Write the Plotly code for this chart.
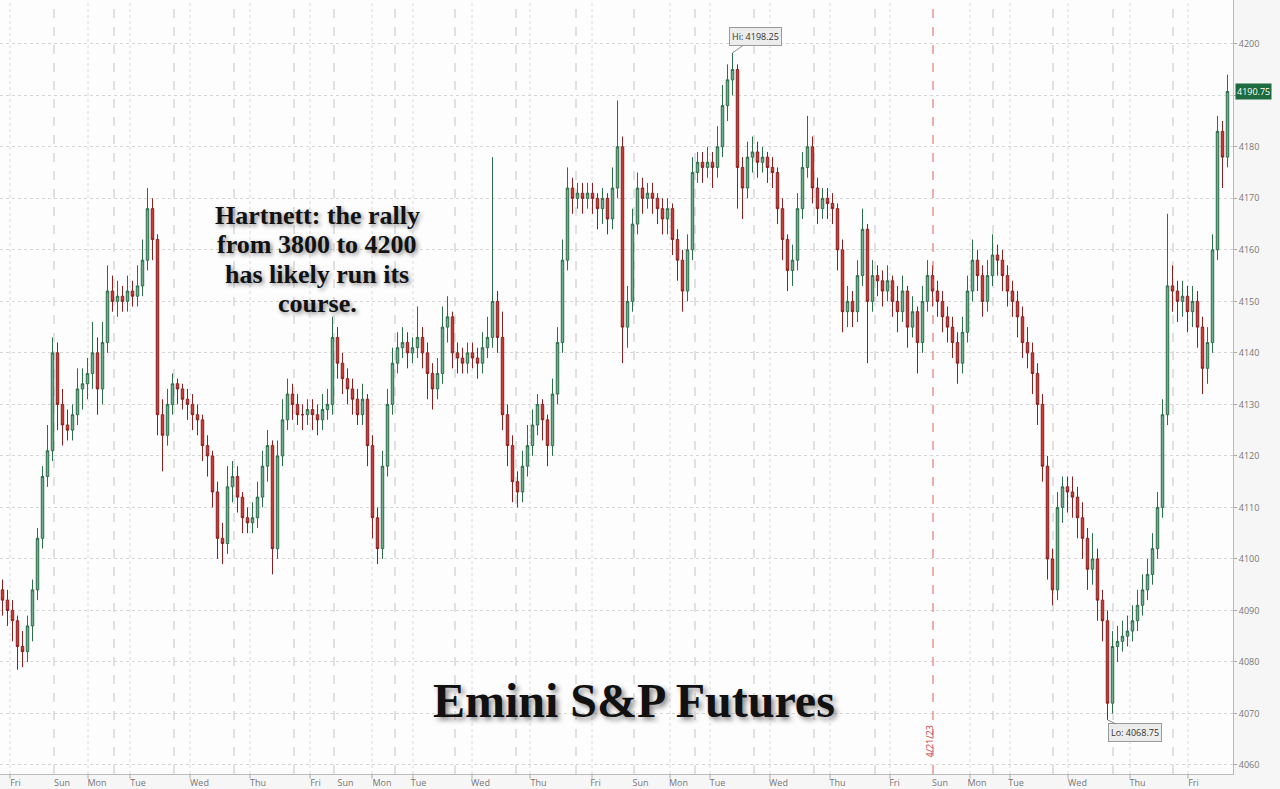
import plotly.graph_objects as go

# ---------------- data (one candle per bar index) ----------------
close_ = [
4092,4090,4088,4083,4082,4087,4094,4104,4116,4121,
4140,4130,4126,4125,4128,4133,4134,4136,4140,4133,
4142,4152,4150,4151,4150,4152,4151,4153,4158,4168,
4162,4128,4124,4130,4134,4133,4131,4130,4128,4127,
4122,4120,4113,4104,4103,4114,4116,4112,4108,4107,
4108,4112,4118,4122,4102,4120,4127,4132,4130,4128,
4128,4129,4128,4127,4129,4130,4143,4138,4135,4133,
4131,4128,4131,4122,4108,4102,4118,4130,4138,4141,
4142,4140,4141,4143,4140,4136,4133,4136,4145,4147,
4140,4139,4138,4140,4139,4138,4141,4143,4150,4143,
4128,4122,4115,4113,4118,4122,4126,4130,4127,4122,
4132,4142,4158,4172,4170,4171,4170,4171,4170,4168,
4170,4166,4172,4180,4145,4150,4165,4172,4170,4171,
4170,4168,4166,4168,4162,4158,4152,4160,4175,4177,
4176,4177,4176,4180,4188,4193,4195,4176,4172,4178,
4179,4177,4178,4176,4175,4168,4162,4156,4158,4168,
4176,4180,4172,4168,4170,4169,4168,4160,4148,4150,
4148,4155,4164,4150,4155,4154,4152,4154,4150,4148,
4152,4145,4148,4142,4150,4155,4152,4150,4147,4145,
4142,4138,4144,4152,4158,4155,4150,4155,4159,4158,
4155,4152,4150,4147,4142,4140,4136,4130,4118,4100,
4094,4110,4114,4113,4112,4108,4104,4098,4100,4092,
4088,4072,4083,4084,4085,4086,4088,4091,4094,4097,
4102,4110,4128,4153,4152,4150,4151,4148,4150,4145,
4137,4142,4160,4183,4178,4190.75,
]

open_ = [
4094,4092,4090,4088,4083,4082,4087,4094,4104,4116,
4121,4140,4130,4126,4125,4128,4133,4134,4136,4140,
4133,4142,4152,4150,4151,4150,4152,4151,4153,4158,
4168,4162,4128,4124,4130,4134,4133,4131,4130,4128,
4127,4122,4120,4113,4104,4103,4114,4116,4112,4108,
4107,4108,4112,4118,4122,4102,4120,4127,4132,4130,
4128,4128,4129,4128,4127,4129,4130,4143,4138,4135,
4133,4131,4128,4131,4122,4108,4102,4118,4130,4138,
4141,4142,4140,4141,4143,4140,4136,4133,4136,4145,
4147,4140,4139,4138,4140,4139,4138,4141,4143,4150,
4143,4128,4122,4115,4113,4118,4122,4126,4130,4127,
4122,4132,4142,4158,4172,4170,4171,4170,4171,4170,
4168,4170,4166,4172,4180,4145,4150,4165,4172,4170,
4171,4170,4168,4166,4168,4162,4158,4152,4160,4175,
4177,4176,4177,4176,4180,4188,4193,4195,4176,4172,
4178,4179,4177,4178,4176,4175,4168,4162,4156,4158,
4168,4176,4180,4172,4168,4170,4169,4168,4160,4148,
4150,4148,4155,4164,4150,4155,4154,4152,4154,4150,
4148,4152,4145,4148,4142,4150,4155,4152,4150,4147,
4145,4142,4138,4144,4152,4158,4155,4150,4155,4159,
4158,4155,4152,4150,4147,4142,4140,4136,4130,4118,
4100,4094,4110,4114,4113,4112,4108,4104,4098,4100,
4092,4088,4072,4083,4084,4085,4086,4088,4091,4094,
4097,4102,4110,4128,4153,4152,4150,4151,4148,4150,
4145,4137,4142,4160,4183,4178,
]

high_ = [
4096,4094,4092,4089,4086,4089,4096,4106,4118,4126,
4143,4142,4133,4129,4130,4137,4137,4139,4146,4143,
4146,4157,4155,4154,4153,4155,4154,4157,4162,4172,
4170,4163,4131,4133,4136,4135,4134,4133,4132,4130,
4128,4124,4121,4115,4107,4118,4119,4118,4113,4110,
4111,4115,4121,4125,4123,4123,4131,4135,4134,4132,
4130,4131,4131,4130,4132,4133,4147,4145,4140,4137,
4135,4133,4134,4132,4124,4110,4121,4133,4141,4144,
4145,4144,4143,4149,4145,4142,4138,4139,4149,4151,
4148,4142,4141,4142,4142,4141,4144,4147,4178,4152,
4148,4130,4124,4117,4121,4126,4129,4132,4131,4128,
4135,4145,4162,4176,4174,4173,4173,4173,4173,4171,
4172,4171,4176,4189,4182,4153,4168,4175,4174,4173,
4173,4171,4170,4170,4169,4164,4160,4163,4178,4179,
4179,4180,4179,4184,4192,4196,4198.25,4196,4178,4181,
4182,4181,4180,4179,4178,4176,4170,4163,4161,4171,
4179,4186,4182,4174,4172,4172,4171,4169,4162,4153,
4152,4158,4168,4165,4158,4157,4156,4157,4155,4153,
4155,4153,4151,4149,4153,4158,4157,4154,4152,4149,
4147,4144,4147,4155,4162,4160,4157,4158,4163,4161,
4160,4157,4154,4152,4149,4145,4142,4138,4132,4120,
4102,4113,4116,4116,4116,4114,4111,4106,4105,4102,
4094,4090,4086,4087,4088,4089,4091,4094,4097,4100,
4105,4113,4131,4167,4157,4154,4154,4153,4153,4152,
4147,4145,4163,4186,4185,4194,
]

low_ = [
4089,4087,4084,4078.5,4079,4080,4084,4092,4102,4114,
4119,4125,4122,4123,4123,4126,4129,4131,4133,4128,
4130,4140,4148,4147,4148,4148,4149,4149,4151,4156,
4158,4124,4117,4122,4128,4130,4129,4127,4125,4124,
4119,4116,4110,4100,4099,4101,4111,4109,4105,4105,
4105,4106,4110,4115,4097,4100,4118,4125,4127,4126,
4125,4126,4125,4124,4125,4127,4128,4135,4132,4130,
4128,4126,4126,4118,4104,4099,4100,4116,4128,4136,
4139,4137,4138,4139,4137,4131,4129,4131,4134,4142,
4137,4136,4136,4136,4137,4135,4136,4139,4141,4140,
4125,4118,4111,4110,4111,4116,4120,4124,4123,4118,
4120,4130,4140,4156,4167,4168,4167,4168,4167,4164,
4165,4163,4164,4170,4138,4141,4148,4163,4167,4168,
4167,4165,4163,4163,4159,4154,4148,4150,4158,4173,
4173,4174,4172,4174,4178,4185,4190,4168,4166,4170,
4175,4174,4175,4173,4172,4165,4158,4152,4153,4156,
4166,4174,4169,4165,4166,4166,4165,4156,4144,4145,
4145,4146,4153,4138,4148,4151,4149,4150,4147,4144,
4146,4141,4143,4136,4140,4148,4149,4147,4144,4142,
4139,4134,4136,4142,4150,4152,4147,4148,4153,4155,
4152,4149,4147,4143,4139,4137,4132,4126,4115,4096,
4091,4092,4107,4109,4108,4104,4100,4094,4095,4088,
4084,4068.75,4070,4080,4082,4083,4084,4086,4089,4092,
4095,4100,4108,4126,4148,4146,4147,4144,4145,4141,
4132,4134,4140,4158,4172,4176,
]

# day labels of the time axis and their bar positions
day_labels = ["Fri", "Sun", "Mon", "Tue", "Wed", "Thu",
              "Fri", "Sun", "Mon", "Tue", "Wed", "Thu",
              "Fri", "Sun", "Mon", "Tue", "Wed", "Thu",
              "Fri", "Sun", "Mon", "Tue", "Wed", "Thu", "Fri"]
day_label_pos = [2.6, 11.9, 18.9, 27.1, 39.4, 51.1,
                 62.6, 68.6, 75.9, 83.2, 95.6, 107.2,
                 118.6, 127.6, 135.2, 143.0, 155.2, 167.0,
                 178.4, 187.5, 194.9, 202.7, 215.0, 227.0, 238.2]
day_tick_pos = [1.5, 17.1, 25.5, 37.5, 49.5, 61.5,
                73.9, 82.1, 93.9, 105.5, 117.9, 133.5,
                141.5, 153.5, 165.5, 177.5, 193.5, 201.5,
                213.1, 225.5, 237.1]
session_sep_pos = [10.3, 22.3, 34.3, 46.3, 58.3, 66.3, 78.5, 90.5,
                   102.7, 114.7, 126.3, 138.5, 150.3, 162.3, 174.5,
                   198.1, 210.1, 222.1, 234.1]
marker_date_pos = 186.1
marker_date_label = "4/21/23"
y_ticks = list(range(4060, 4201, 10))

note_lines = ["Hartnett: the rally", "from 3800 to 4200", "has likely run its", "course."]
title_text = "Emini S&P Futures"

hi_idx, hi_val = 146, 4198.25
lo_idx, lo_val = 221, 4068.75
last_val = 4190.75

n = len(close_)
xs = list(range(n))

PLOT_H = 774.0
PLOT_W = 1233.0

fig = go.Figure(go.Candlestick(
    x=xs, open=open_, high=high_, low=low_, close=close_,
    increasing=dict(line=dict(color="#2c6d4a", width=1), fillcolor="#74ad8d"),
    decreasing=dict(line=dict(color="#8c1f1f", width=1), fillcolor="#c5403a"),
    whiskerwidth=0, showlegend=False,
))

shapes = []
for p in session_sep_pos:
    shapes.append(dict(type="line", xref="x", yref="paper", x0=p, x1=p, y0=0, y1=1,
                       line=dict(color="#c4c4c4", width=1, dash="dash"), layer="below"))
for p in day_tick_pos:
    shapes.append(dict(type="line", xref="x", yref="paper", x0=p, x1=p, y0=0, y1=1,
                       line=dict(color="#dadada", width=1, dash="dot"), layer="below"))
    shapes.append(dict(type="line", xref="x", yref="paper", x0=p, x1=p, y0=0, y1=-0.006,
                       line=dict(color="#aaaaaa", width=1)))
shapes.append(dict(type="line", xref="x", yref="paper", x0=marker_date_pos, x1=marker_date_pos,
                   y0=0, y1=1, line=dict(color="#e06060", width=1, dash="dash")))

serif = "Liberation Serif, Times New Roman, serif"
annotations = []
for k, (line_txt, ypx) in enumerate(zip(note_lines, [215, 245, 274, 304])):
    annotations.append(dict(
        text=line_txt, xref="paper", yref="paper", x=317 / PLOT_W, y=1 - ypx / PLOT_H,
        xanchor="center", yanchor="middle", showarrow=False,
        font=dict(family=serif, size=26, color="#111111", weight="bold",
                  shadow="2px 2px 4px rgba(0,0,0,0.45)")))
annotations += [
    dict(text=title_text, xref="paper", yref="paper", x=634 / PLOT_W, y=1 - 700 / PLOT_H,
         xanchor="center", yanchor="middle", showarrow=False,
         font=dict(family=serif, size=48, color="#111111", weight="bold",
                   shadow="3px 3px 5px rgba(0,0,0,0.45)")),
    dict(text=f"Hi: {hi_val}", x=hi_idx, y=hi_val, xref="x", yref="y",
         showarrow=True, arrowhead=0, arrowwidth=1, arrowcolor="#888888",
         ax=23, ay=-16, bgcolor="#ececec", bordercolor="#9a9a9a", borderwidth=1, borderpad=2,
         font=dict(family="Open Sans, sans-serif", size=9, color="#333333")),
    dict(text=f"Lo: {lo_val}", x=lo_idx, y=lo_val, xref="x", yref="y",
         showarrow=True, arrowhead=0, arrowwidth=1, arrowcolor="#888888",
         ax=27, ay=13, bgcolor="#ececec", bordercolor="#9a9a9a", borderwidth=1, borderpad=2,
         font=dict(family="Open Sans, sans-serif", size=9, color="#333333")),
    dict(text=f"{last_val}", xref="paper", yref="y", x=1.002, y=last_val, xanchor="left",
         yanchor="middle", showarrow=False, bgcolor="#1d6b3e", borderpad=1,
         font=dict(family="Open Sans, sans-serif", size=9, color="#ffffff")),
    dict(text=marker_date_label, xref="x", yref="paper", x=marker_date_pos - 0.9, y=1 - 742 / PLOT_H,
         xanchor="center", yanchor="middle", textangle=-90, showarrow=False,
         font=dict(family="Open Sans, sans-serif", size=9, color="#d04040")),
]

fig.update_layout(
    width=1280, height=789,
    margin=dict(l=0, r=47, t=0, b=15),
    paper_bgcolor="#f6f6f6", plot_bgcolor="#fdfdfd",
    shapes=shapes, annotations=annotations,
    xaxis=dict(range=[-0.5, 246.1], rangeslider=dict(visible=False),
               tickmode="array", tickvals=day_label_pos, ticktext=day_labels,
               showgrid=False, zeroline=False, ticks="", ticklen=0,
               showline=True, linecolor="#bbbbbb", linewidth=1,
               tickfont=dict(family="Open Sans, sans-serif", size=9, color="#777777")),
    yaxis=dict(side="right", range=[4058.25, 4208.5], tickmode="array", tickvals=y_ticks,
               showgrid=True, gridcolor="#d6d6d6", griddash="dot", gridwidth=1,
               zeroline=False, ticks="outside", ticklen=3, tickcolor="#aaaaaa",
               showline=True, linecolor="#bbbbbb", linewidth=1,
               tickfont=dict(family="Open Sans, sans-serif", size=9, color="#777777")),
    font=dict(family="Open Sans, sans-serif"),
)

fig.write_html("out.html", config={"displayModeBar": False},
               post_script="document.body.style.margin='0';document.body.style.overflow='hidden';")
